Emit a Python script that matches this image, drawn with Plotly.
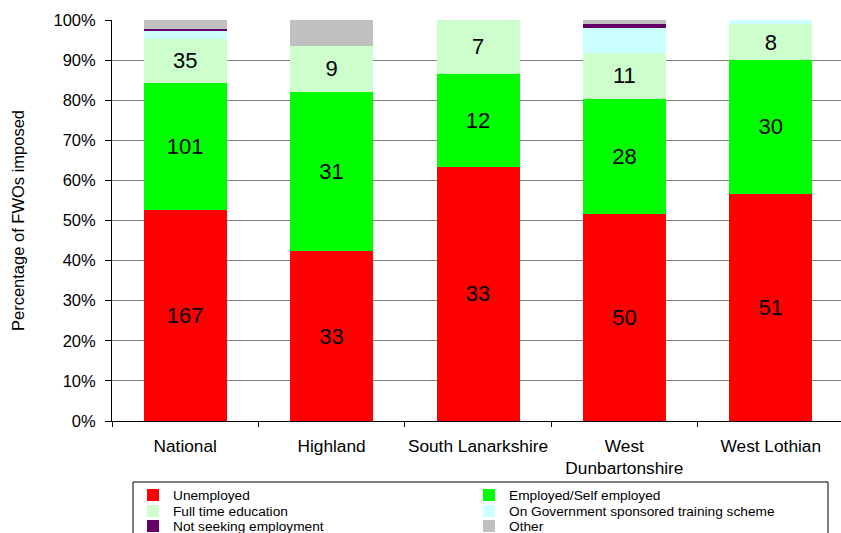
import plotly.graph_objects as go

categories = ["National", "Highland", "South Lanarkshire", "West<br>Dunbartonshire", "West Lothian"]
unemployed = [167, 33, 33, 50, 51]
employed = [101, 31, 12, 28, 30]
full_time_edu = [35, 9, 7, 11, 8]
training = [7, 0, 0, 6, 1]
not_seeking = [1, 0, 0, 1, 0]
other = [7, 5, 0, 1, 0]

L, T = 112, 20
W, H = 844, 533
PW = W - L
PH = 421 - T

def px2paper_x(px):
    return (px - L) / PW

def px2paper_y(py):
    return (421 - py) / PH

# name, values, colour, labelled, legend id, legend x(px), legend row centre y(px)
series = [
    ("Unemployed", unemployed, "#FF0000", True, "legend", 133, 495),
    ("Employed/Self employed", employed, "#00FF00", True, "legend2", 469, 495),
    ("Full time education", full_time_edu, "#CCFFCC", True, "legend3", 133, 511),
    ("On Government sponsored training scheme", training, "#CCFFFF", False, "legend4", 469, 511),
    ("Not seeking employment", not_seeking, "#660066", False, "legend5", 133, 526),
    ("Other", other, "#C0C0C0", False, "legend6", 469, 526),
]

FONT = "Liberation Sans, Arial, sans-serif"
fig = go.Figure()
legends = {}
for name, vals, color, labelled, lg, lx, ly in series:
    fig.add_trace(go.Bar(
        name=name, x=categories, y=vals,
        marker=dict(color=color, line=dict(width=0)),
        text=[str(v) for v in vals] if labelled else None,
        texttemplate="%{text}" if labelled else None,
        textposition="inside" if labelled else "none",
        insidetextanchor="middle",
        textangle=0,
        constraintext="none",
        textfont=dict(family=FONT, size=22, color="black"),
        legend=lg,
        showlegend=True,
    ))
    legends[lg] = dict(
        x=px2paper_x(lx), y=px2paper_y(ly), xanchor="left", yanchor="middle",
        font=dict(size=13.7), bgcolor="rgba(0,0,0,0)", borderwidth=0,
        itemclick=False, itemdoubleclick=False,
    )

fig.update_layout(
    width=W, height=H,
    showlegend=True,
    barmode="stack", barnorm="percent", bargap=0.433,
    margin=dict(l=L, r=0, t=T, b=H - 421, pad=0, autoexpand=False),
    plot_bgcolor="white", paper_bgcolor="white",
    font=dict(family=FONT, size=16, color="black"),
    xaxis=dict(
        showline=True, linecolor="black", linewidth=1, automargin=False,
        ticks="outside", ticklen=5, tickcolor="black", tickson="boundaries",
        tickfont=dict(size=17.3), showgrid=False, ticklabelstandoff=9,
        tickangle=0,
    ),
    yaxis=dict(
        range=[0, 100], dtick=10, ticksuffix="%", automargin=False,
        showline=True, linecolor="black", linewidth=1,
        ticks="outside", ticklen=6, tickcolor="black",
        showgrid=True, gridcolor="#808080", gridwidth=1,
        tickfont=dict(size=16.5), zeroline=False, ticklabelstandoff=6,
        title=dict(text="Percentage of FWOs imposed", font=dict(size=16.5), standoff=24),
    ),
    shapes=[dict(
        type="rect", xref="paper", yref="paper",
        x0=px2paper_x(133), x1=px2paper_x(828),
        y0=px2paper_y(482), y1=px2paper_y(545),
        line=dict(color="black", width=1), fillcolor="rgba(0,0,0,0)",
        layer="above",
    )],
    **legends,
)

fig.write_html(
    "out.html",
    config={"displayModeBar": False},
    post_script="document.body.style.margin='0';document.body.style.overflow='hidden';",
)
